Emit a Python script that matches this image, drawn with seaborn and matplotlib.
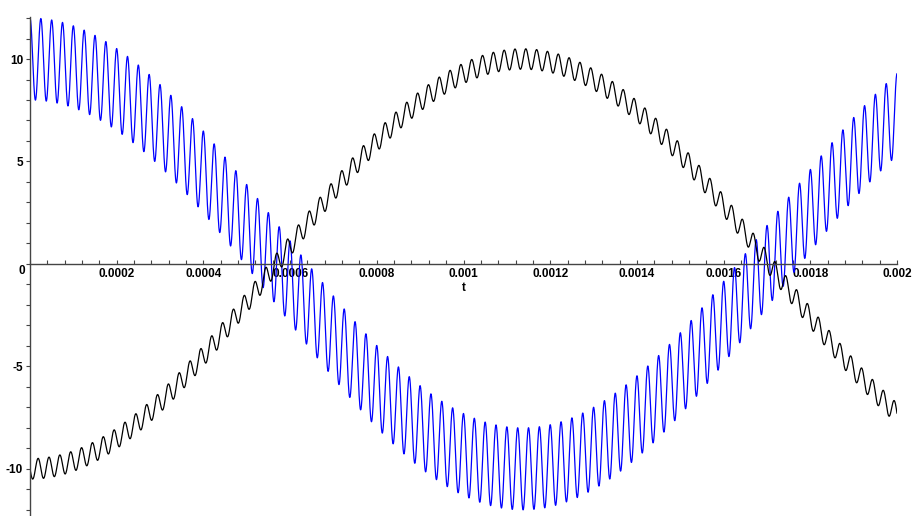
import numpy as np
import pandas as pd
import matplotlib
matplotlib.use('Agg')
import matplotlib.pyplot as plt
import matplotlib.transforms as mtransforms
from matplotlib.ticker import MultipleLocator, FixedLocator
import seaborn as sns

# signal parameters
slow_freq = 440.0        # Hz, carrier
fast_freq = 40000.0      # Hz, ripple (80 cycles over 2 ms)
blue_amp = [10.0, 2.0]   # slow, fast
black_amp = [-10.0, -0.5]
t_end = 0.002

x_ticks = [0.0002, 0.0004, 0.0006, 0.0008, 0.001, 0.0012, 0.0014, 0.0016, 0.0018, 0.002]
x_labels = ['0.0002', '0.0004', '0.0006', '0.0008', '0.001', '0.0012', '0.0014', '0.0016', '0.0018', '0.002']
y_ticks = [-10, -5, 0, 5, 10]

t = np.linspace(0, t_end, 8001)
blue = blue_amp[0] * np.cos(2 * np.pi * slow_freq * t) + blue_amp[1] * np.cos(2 * np.pi * fast_freq * t)
black = black_amp[0] * np.cos(2 * np.pi * slow_freq * t) + black_amp[1] * np.sin(2 * np.pi * fast_freq * t)
# blue first so the black curve ends up on top
df = pd.DataFrame({'t': np.concatenate([t, t]),
                   'y': np.concatenate([blue, black]),
                   'curve': ['blue'] * len(t) + ['black'] * len(t)})

sns.set_theme(style="white")
plt.rcParams['font.family'] = ['Liberation Sans', 'DejaVu Sans']
plt.rcParams['axes.unicode_minus'] = False

fig = plt.figure(figsize=(9.16, 5.16), dpi=100)
ax = fig.add_axes([30 / 916, 0, 867 / 916, 499 / 516])
sns.lineplot(data=df, x='t', y='y', hue='curve', palette={'black': 'black', 'blue': '#0000ff'},
             estimator=None, sort=False, linewidth=0.9, legend=False, ax=ax)

ax.set_xlim(0, t_end)
ax.set_ylim(-12.3, 12.05)
ax.spines['top'].set_visible(False)
ax.spines['right'].set_visible(False)
ax.spines['bottom'].set_position(('data', 0))
for s in ('left', 'bottom'):
    ax.spines[s].set_color('#444444')
    ax.spines[s].set_linewidth(1.0)

ax.xaxis.set_major_locator(FixedLocator(x_ticks))
ax.set_xticklabels(x_labels)
ax.xaxis.set_minor_locator(MultipleLocator(0.00004))
ax.yaxis.set_major_locator(FixedLocator(y_ticks))
ax.set_yticklabels([str(v) for v in y_ticks])
ax.yaxis.set_minor_locator(MultipleLocator(1))

ax.tick_params(axis='x', which='both', direction='in', length=3, width=0.8, color='#444444',
               bottom=True, pad=3, labelsize=8.5, labelcolor='black')
ax.tick_params(axis='y', which='both', direction='out', length=3, width=0.8, color='#444444',
               left=True, pad=2, labelsize=8.5, labelcolor='black')
for lab in ax.get_xticklabels() + ax.get_yticklabels():
    lab.set_fontweight('bold')

# the "0" sits a little below the x axis line
zero_lab = ax.get_yticklabels()[2]
zero_lab.set_transform(zero_lab.get_transform() +
                       mtransforms.ScaledTranslation(2 / 100, -6 / 100, fig.dpi_scale_trans))

ax.set_xlabel('')
ax.set_ylabel('')
ax.text(t_end / 2, -0.9, 't', ha='center', va='top', fontsize=8.5, fontweight='bold', color='black')

fig.savefig('out.png', dpi=100)
